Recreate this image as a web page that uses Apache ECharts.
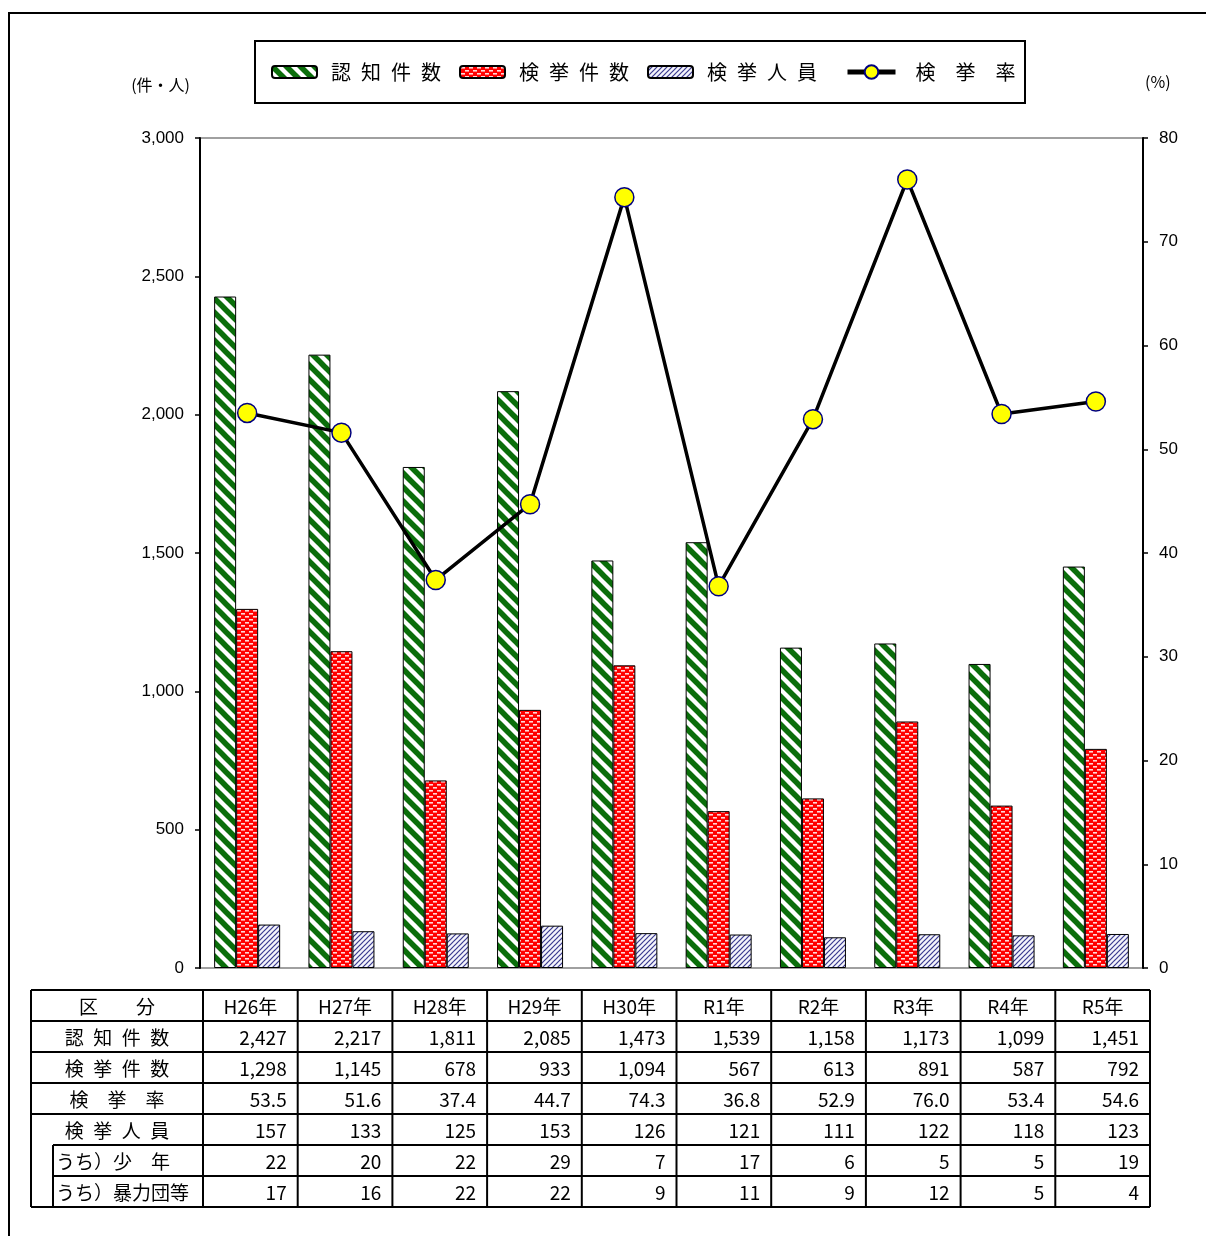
<!DOCTYPE html>
<html>
<head>
<meta charset="utf-8">
<script src="https://cdn.jsdelivr.net/npm/echarts@6/dist/echarts.min.js"></script>
<style>
html,body{margin:0;padding:0;background:#fff;}
#chart{width:1206px;height:1236px;}
</style>
</head>
<body>
<div id="chart"></div>
<script>
// ===== data =====
const years = ['H26年','H27年','H28年','H29年','H30年','R1年','R2年','R3年','R4年','R5年'];
const ninchi = [2427, 2217, 1811, 2085, 1473, 1539, 1158, 1173, 1099, 1451];   // 認知件数
const kenkyo = [1298, 1145, 678, 933, 1094, 567, 613, 891, 587, 792];        // 検挙件数
const rate = [53.5, 51.6, 37.4, 44.7, 74.3, 36.8, 52.9, 76.0, 53.4, 54.6];  // 検挙率
const jinin = [157, 133, 125, 153, 126, 121, 111, 122, 118, 123];          // 検挙人員
const shonen = [22, 20, 22, 29, 7, 17, 6, 5, 5, 19];                         // うち）少年
const boryoku = [17, 16, 22, 22, 9, 11, 9, 12, 5, 4];                        // うち）暴力団等
const seriesNames = ['認知件数', '検挙件数', '検挙人員', '検挙率'];
const legendLabels = ['認\u2002知\u2002件\u2002数', '検\u2002挙\u2002件\u2002数', '検\u2002挙\u2002人\u2002員', '検　挙　率'];
const leftTicks = {min: 0, max: 3000, interval: 500};
const rightTicks = {min: 0, max: 80, interval: 10};

// ===== patterns =====
function makeCanvas(w, h) { const c = document.createElement('canvas'); c.width = w; c.height = h; return c; }
function greenPattern() {
  const s = 14, c = makeCanvas(s, s), g = c.getContext('2d');
  g.fillStyle = '#fff'; g.fillRect(0, 0, s, s);
  g.strokeStyle = '#0b6e0b'; g.lineWidth = 5.5;
  for (const o of [-s, 0, s]) { g.beginPath(); g.moveTo(o - 2, -2); g.lineTo(o + s + 2, s + 2); g.stroke(); }
  return c;
}
function redPattern() {
  const w = 8, h = 6, c = makeCanvas(w, h), g = c.getContext('2d');
  g.fillStyle = '#ff0000'; g.fillRect(0, 0, w, h);
  g.fillStyle = '#ffd8d8';
  g.fillRect(1, 1, 4, 1.6);
  g.fillRect(5, 4, 4, 1.6); g.fillRect(-3, 4, 4, 1.6);
  return c;
}
function bluePattern() {
  const s = 5, c = makeCanvas(s, s), g = c.getContext('2d');
  g.fillStyle = '#f4f4fb'; g.fillRect(0, 0, s, s);
  g.strokeStyle = '#3a3a90'; g.lineWidth = 1.2;
  for (const o of [-s, 0, s]) { g.beginPath(); g.moveTo(o - 1, s + 1); g.lineTo(o + s + 1, -1); g.stroke(); }
  return c;
}
const greenFill = {image: greenPattern(), repeat: 'repeat'};
const redFill = {image: redPattern(), repeat: 'repeat'};
const blueFill = {image: bluePattern(), repeat: 'repeat'};

const JP = "'Noto Sans CJK JP', 'Noto Sans', sans-serif";
const NUM = "'Liberation Sans', Arial, sans-serif";

// ===== table layout (graphic) =====
const tbl = {left: 31, top: 990, labelW: 172, colW: 94.7, rowH: 31, indent: 22};
const rowLabels = ['区　　分', '認\u2002知\u2002件\u2002数', '検\u2002挙\u2002件\u2002数', '検　挙　率', '検\u2002挙\u2002人\u2002員', 'うち）少　年', 'うち）暴力団等'];
const fmtInt = v => v.toLocaleString('en-US');
const rowValues = [
  years,
  ninchi.map(fmtInt),
  kenkyo.map(fmtInt),
  rate.map(v => v.toFixed(1)),
  jinin.map(fmtInt),
  shonen.map(fmtInt),
  boryoku.map(fmtInt)
];

function buildGraphics() {
  const els = [];
  const nRows = rowLabels.length, nCols = years.length;
  const right = tbl.left + tbl.labelW + tbl.colW * nCols;
  const bottom = tbl.top + tbl.rowH * nRows;
  const ls = {stroke: '#000', lineWidth: 2};
  // horizontal lines
  for (let r = 0; r <= nRows; r++) {
    const y = tbl.top + tbl.rowH * r;
    const x0 = (r === 5 || r === 6) ? tbl.left + tbl.indent : tbl.left;
    els.push({type: 'line', shape: {x1: x0, y1: y, x2: right, y2: y}, style: ls, silent: true});
  }
  // vertical lines
  els.push({type: 'line', shape: {x1: tbl.left, y1: tbl.top, x2: tbl.left, y2: bottom}, style: ls, silent: true});
  els.push({type: 'line', shape: {x1: tbl.left + tbl.indent, y1: tbl.top + tbl.rowH * 5, x2: tbl.left + tbl.indent, y2: bottom}, style: ls, silent: true});
  for (let c = 0; c <= nCols; c++) {
    const x = tbl.left + tbl.labelW + tbl.colW * c;
    els.push({type: 'line', shape: {x1: x, y1: tbl.top, x2: x, y2: bottom}, style: ls, silent: true});
  }
  // texts
  for (let r = 0; r < nRows; r++) {
    const cy = tbl.top + tbl.rowH * r + tbl.rowH / 2 + 1;
    const isSub = (r === 5 || r === 6);
    els.push({type: 'text', x: isSub ? tbl.left + tbl.indent + 3 : tbl.left + tbl.labelW / 2, y: cy,
      style: {text: rowLabels[r], font: '19px ' + JP, fill: '#000', align: isSub ? 'left' : 'center', verticalAlign: 'middle'}, silent: true});
    for (let c = 0; c < nCols; c++) {
      const x0 = tbl.left + tbl.labelW + tbl.colW * c;
      if (r === 0) {
        els.push({type: 'text', x: x0 + tbl.colW / 2, y: cy,
          style: {text: rowValues[r][c], font: '19px ' + JP, fill: '#000', align: 'center', verticalAlign: 'middle'}, silent: true});
      } else {
        els.push({type: 'text', x: x0 + tbl.colW - 11, y: cy,
          style: {text: rowValues[r][c], font: '19px ' + JP, fill: '#000', align: 'right', verticalAlign: 'middle'}, silent: true});
      }
    }
  }
  // legend box
  els.push({type: 'rect', shape: {x: 255, y: 41, width: 770, height: 62}, style: {fill: 'none', stroke: '#000', lineWidth: 2}, silent: true});
  // outer frame of the whole figure
  els.push({type: 'rect', shape: {x: 9, y: 13, width: 1400, height: 1400}, style: {fill: 'none', stroke: '#000', lineWidth: 2}, silent: true, z: -1});
  return els;
}

const chart = echarts.init(document.getElementById('chart'), null, {renderer: 'canvas'});
const barCommon = {type: 'bar', barWidth: 22, barGap: '0%', yAxisIndex: 0};
const legendText = {fontSize: 20, color: '#000', fontFamily: JP, lineHeight: 22};
const option = {
  animation: false,
  backgroundColor: '#fff',
  textStyle: {fontFamily: JP},
  grid: {left: 200, right: 63, top: 138, bottom: 268, show: true, borderColor: '#a0a0a0', borderWidth: 2, backgroundColor: 'transparent'},
  legend: [
    {
      left: 271, top: 61, padding: 0,
      itemWidth: 45, itemHeight: 12, itemGap: 18,
      data: seriesNames.slice(0, 3),
      formatter: name => legendLabels[seriesNames.indexOf(name)],
      textStyle: Object.assign({padding: [0, 0, 0, 9]}, legendText)
    },
    {
      left: 845, top: 61, padding: 0,
      itemWidth: 48, itemHeight: 17,
      data: [{name: seriesNames[3], lineStyle: {width: 5, color: '#000'}}],
      formatter: name => legendLabels[seriesNames.indexOf(name)],
      textStyle: Object.assign({padding: [0, 0, 0, 15]}, legendText)
    }
  ],
  xAxis: {
    type: 'category', data: years,
    axisLine: {show: false}, axisTick: {show: false}, axisLabel: {show: false}, splitLine: {show: false}
  },
  yAxis: [
    {
      type: 'value', min: leftTicks.min, max: leftTicks.max, interval: leftTicks.interval,
      name: '(件・人)', nameLocation: 'end', nameGap: 53,
      nameTextStyle: {fontSize: 16, color: '#000', align: 'right', verticalAlign: 'middle', padding: [0, 10, 0, 0], fontFamily: JP},
      axisLine: {show: true, lineStyle: {color: '#000', width: 2}},
      axisTick: {show: true, length: 5, lineStyle: {color: '#000', width: 1.5}},
      axisLabel: {fontSize: 17, color: '#000', margin: 16, fontFamily: NUM, formatter: v => v.toLocaleString('en-US')},
      splitLine: {show: false}
    },
    {
      type: 'value', position: 'right', min: rightTicks.min, max: rightTicks.max, interval: rightTicks.interval,
      name: '(%)', nameLocation: 'end', nameGap: 56,
      nameTextStyle: {fontSize: 16, color: '#000', align: 'left', verticalAlign: 'middle', padding: [0, 0, 0, 2], fontFamily: JP},
      axisLine: {show: true, lineStyle: {color: '#000', width: 2}},
      axisTick: {show: true, length: 5, lineStyle: {color: '#000', width: 1.5}},
      axisLabel: {fontSize: 17, color: '#000', margin: 16, fontFamily: NUM},
      splitLine: {show: false}
    }
  ],
  series: [
    Object.assign({}, barCommon, {name: seriesNames[0], data: ninchi, itemStyle: {color: greenFill, borderColor: '#000', borderWidth: 1}}),
    Object.assign({}, barCommon, {name: seriesNames[1], data: kenkyo, itemStyle: {color: redFill, borderColor: '#000', borderWidth: 1}}),
    Object.assign({}, barCommon, {name: seriesNames[2], data: jinin, itemStyle: {color: blueFill, borderColor: '#000', borderWidth: 1}}),
    {
      name: seriesNames[3], type: 'line', yAxisIndex: 1, data: rate, z: 5,
      symbol: 'circle', symbolSize: 19,
      lineStyle: {color: '#000', width: 3.5},
      itemStyle: {color: '#ffff00', borderColor: '#000080', borderWidth: 1.5}
    }
  ],
  graphic: buildGraphics()
};
chart.setOption(option);
</script>
</body>
</html>
